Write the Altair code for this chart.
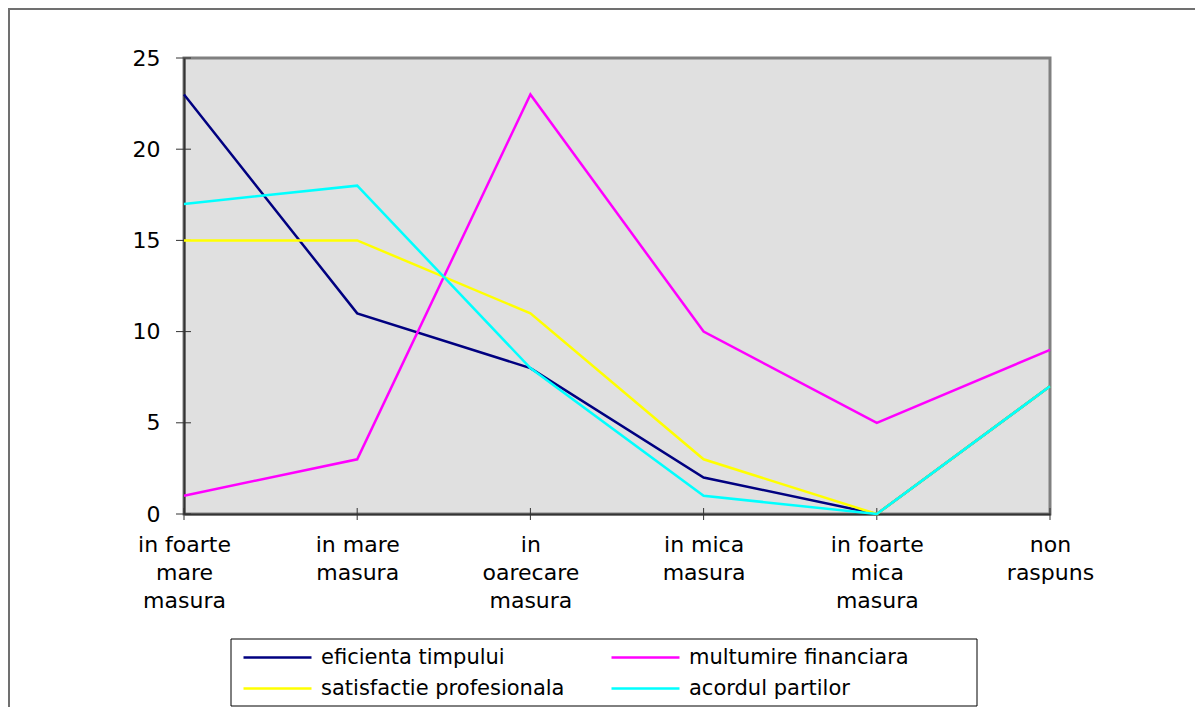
import json
import altair as alt
import pandas as pd

categories = ["in foarte mare masura", "in mare masura", "in oarecare masura",
              "in mica masura", "in foarte mica masura", "non raspuns"]
category_lines = [["in foarte", "mare", "masura"], ["in mare", "masura"],
                  ["in", "oarecare", "masura"], ["in mica", "masura"],
                  ["in foarte", "mica", "masura"], ["non", "raspuns"]]
series_names = ["eficienta timpului", "multumire financiara",
                "satisfactie profesionala", "acordul partilor"]
series_colors = ["#000080", "#FF00FF", "#FFFF00", "#00FFFF"]
eficienta = [23, 11, 8, 2, 0, 7]
multumire = [1, 3, 23, 10, 5, 9]
satisfactie = [15, 15, 11, 3, 0, 7]
acordul = [17, 18, 8, 1, 0, 7]
y_ticks = [0, 5, 10, 15, 20, 25]

values_by_series = [eficienta, multumire, satisfactie, acordul]
rows = []
for name, vals in zip(series_names, values_by_series):
    for cat, v in zip(categories, vals):
        rows.append({"category": cat, "series": name, "value": v})
df = pd.DataFrame(rows)

FONT = "DejaVu Sans"
x_scale = alt.Scale(type="point", padding=0, domain=categories)
y_scale = alt.Scale(domain=[0, 25], nice=False, zero=True)
color_scale = alt.Scale(domain=series_names, range=series_colors)

label_expr = "[" + ",".join(json.dumps(l) for l in category_lines) + "][indexof(" + json.dumps(categories) + ", datum.value)]"

x_axis = alt.Axis(title="", labelExpr=label_expr, labelFont=FONT, labelFontSize=22,
                  labelLineHeight=28, labelPadding=20, ticks=False, tickSize=0,
                  domainColor="#333333", domainWidth=2, grid=False, labelAngle=0,
                  labelColor="black", labelBaseline="top", labelAlign="center",
                  labelOverlap=False, labelLimit=0)
y_axis = alt.Axis(title="", values=y_ticks, labelFont=FONT, labelFontSize=22,
                  labelPadding=24, ticks=False, tickSize=0, domainColor="#333333",
                  domainWidth=2, grid=False, labelColor="black")

legend = alt.Legend(title="", orient="none", legendX=58, legendY=584, columns=2,
                    direction="horizontal",
                    symbolType="stroke", symbolSize=4624, symbolStrokeWidth=2.5,
                    clipHeight=31, rowPadding=0, columnPadding=45, labelFont=FONT,
                    labelFontSize=21, labelOffset=8, labelColor="black", padding=0,
                    labelLimit=0)

one = pd.DataFrame({"k": [0]})
outer = alt.Chart(one).mark_rect(fill="white", fillOpacity=0, stroke="#707070", strokeWidth=2).encode(
    x=alt.value(-175), x2=alt.value(1100), y=alt.value(-49), y2=alt.value(800))
legend_box = alt.Chart(one).mark_rect(fill="white", fillOpacity=0, stroke="black", strokeWidth=1).encode(
    x=alt.value(47), x2=alt.value(793), y=alt.value(581), y2=alt.value(648))

ytick_df = pd.DataFrame({"t": y_ticks})
yticks = alt.Chart(ytick_df).mark_rule(color="#333333", strokeWidth=1).encode(
    y=alt.Y("t:Q", scale=y_scale, axis=y_axis), x=alt.value(-8), x2=alt.value(7))
xtick_df = pd.DataFrame({"category": categories})
xticks = alt.Chart(xtick_df).mark_rule(color="#333333", strokeWidth=1).encode(
    x=alt.X("category:N", scale=x_scale, sort=categories, axis=x_axis),
    y=alt.value(450), y2=alt.value(462))

lines = []
for name in series_names:
    lines.append(
        alt.Chart(df).transform_filter(alt.datum.series == name).mark_line(strokeWidth=2.5).encode(
            x=alt.X("category:N", scale=x_scale, sort=categories, axis=x_axis),
            y=alt.Y("value:Q", scale=y_scale, axis=y_axis),
            color=alt.Color("series:N", scale=color_scale, legend=legend),
        )
    )

chart = alt.layer(outer, xticks, yticks, *lines, legend_box).properties(
    width=866, height=456,
    padding={"left": 176, "top": 50, "right": 145, "bottom": 193},
    autosize=alt.AutoSizeParams(type="none"),
    background="white",
).configure_view(fill="#E0E0E0", stroke="#808080", strokeWidth=3)

chart.save("out.html", embed_options={"renderer": "svg", "actions": False})
